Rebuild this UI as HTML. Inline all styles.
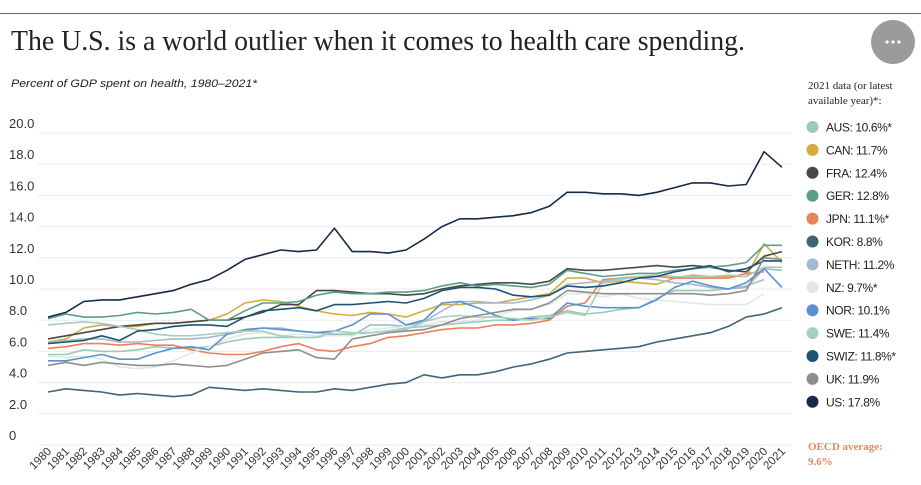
<!DOCTYPE html>
<html><head><meta charset="utf-8"><style>
html,body{margin:0;padding:0;background:#fff;}
svg{display:block;font-family:"Liberation Sans",sans-serif;}
</style></head><body>
<svg id="chart" width="921" height="485" viewBox="0 0 921 485">
<line x1="0" y1="13.5" x2="921" y2="13.5" stroke="#666" stroke-width="1"/>
<text x="11" y="50" font-family="Liberation Serif, serif" font-size="28" fill="#222" textLength="734" lengthAdjust="spacingAndGlyphs">The U.S. is a world outlier when it comes to health care spending.</text>
<g>
<circle cx="893" cy="42" r="22" fill="#9b9b9b"/>
<circle cx="887" cy="42" r="1.6" fill="#fff"/><circle cx="893" cy="42" r="1.6" fill="#fff"/><circle cx="899" cy="42" r="1.6" fill="#fff"/>
</g>
<text x="11" y="87" font-size="11" font-style="italic" fill="#222" textLength="246" lengthAdjust="spacingAndGlyphs">Percent of GDP spent on health, 1980–2021*</text>
<text x="808" y="89" font-family="Liberation Serif, serif" font-size="11" fill="#222">2021 data (or latest</text>
<text x="808" y="104" font-family="Liberation Serif, serif" font-size="11" fill="#222">available year)*:</text>
<g id="grid"></g><g id="lines"></g><g id="xlabels"></g><g id="legend"></g>
<text x="808" y="450" font-family="Liberation Serif, serif" font-size="11" font-weight="bold" fill="#ea8761">OECD average:</text>
<text x="808" y="465" font-family="Liberation Serif, serif" font-size="11" font-weight="bold" fill="#ea8761">9.6%</text>
</svg>
<script>
const years = [];for(let y=1980;y<=2021;y++)years.push(y);
const yTicks = [0,2,4,6,8,10,12,14,16,18,20];
const countries = ["AUS","CAN","FRA","GER","JPN","KOR","NETH","NZ","NOR","SWE","SWIZ","UK","US"];
const legendLabels = ["AUS: 10.6%*","CAN: 11.7%","FRA: 12.4%","GER: 12.8%","JPN: 11.1%*","KOR: 8.8%","NETH: 11.2%","NZ: 9.7%*","NOR: 10.1%","SWE: 11.4%","SWIZ: 11.8%*","UK: 11.9%","US: 17.8%"];
const colors = ["#9dc9b7","#d8aa42","#474b47","#5a9e86","#ec7f5e","#3f6478","#a3b9cc","#dde9e4","#5b91d0","#a7cfbd","#1d5270","#8e8e8e","#172a45"];
const AUS=[5.8,5.8,6.1,6.0,6.0,6.1,6.3,6.2,6.2,6.3,6.6,6.8,6.9,6.9,6.9,6.9,7.1,7.1,7.2,7.3,7.5,7.6,7.7,7.8,7.9,8.0,8.0,8.2,8.3,8.6,8.4,8.5,8.7,8.8,9.4,9.9,9.9,9.9,10.0,10.2,10.6];
const CAN=[6.6,6.8,7.5,7.7,7.6,7.6,7.8,7.8,7.9,8.0,8.4,9.1,9.3,9.2,8.9,8.6,8.4,8.3,8.5,8.4,8.2,8.6,9.0,9.0,9.1,9.1,9.3,9.5,9.7,10.7,10.7,10.4,10.5,10.4,10.3,10.7,10.9,10.8,10.8,10.8,12.9,11.7];
const FRA=[6.8,7.0,7.2,7.4,7.6,7.7,7.8,7.8,7.9,8.0,8.0,8.2,8.5,9.0,9.0,9.9,9.9,9.8,9.7,9.7,9.6,9.7,10.0,10.2,10.3,10.4,10.4,10.3,10.5,11.3,11.2,11.2,11.3,11.4,11.5,11.4,11.5,11.4,11.2,11.1,12.1,12.4];
const GER=[8.1,8.4,8.2,8.2,8.3,8.5,8.4,8.5,8.7,8.0,8.0,8.6,9.1,9.1,9.2,9.6,9.8,9.7,9.7,9.8,9.8,9.9,10.2,10.4,10.2,10.3,10.2,10.1,10.3,11.2,11.0,10.8,10.9,11.0,11.0,11.2,11.3,11.4,11.5,11.7,12.8,12.8];
const JPN=[6.2,6.3,6.5,6.5,6.4,6.5,6.4,6.4,6.1,5.9,5.8,5.8,6.0,6.3,6.5,6.1,6.0,6.3,6.5,6.9,7.0,7.2,7.4,7.5,7.5,7.7,7.7,7.8,8.0,8.9,9.1,10.6,10.7,10.8,10.8,10.7,10.7,10.7,10.7,11.0,11.1];
const KOR=[3.4,3.6,3.5,3.4,3.2,3.3,3.2,3.1,3.2,3.7,3.6,3.5,3.6,3.5,3.4,3.4,3.6,3.5,3.7,3.9,4.0,4.5,4.3,4.5,4.5,4.7,5.0,5.2,5.5,5.9,6.0,6.1,6.2,6.3,6.6,6.8,7.0,7.2,7.6,8.2,8.4,8.8];
const NETH=[6.6,6.7,6.8,6.8,6.6,6.6,6.7,6.8,6.8,6.9,7.1,7.3,7.5,7.5,7.3,7.2,7.1,7.0,7.7,7.7,7.6,7.9,8.6,9.2,9.2,9.1,9.1,9.3,9.6,10.3,10.4,10.5,10.7,10.7,10.6,10.4,10.3,10.1,10.0,10.1,11.3,11.2];
const NZ=[5.7,5.6,5.7,5.5,5.0,4.9,5.0,5.4,5.9,6.3,6.8,7.1,7.2,7.0,7.1,7.0,7.0,7.0,7.4,7.5,7.6,7.7,7.9,7.9,8.0,8.3,8.6,8.7,9.0,9.7,9.7,9.5,9.7,9.4,9.3,9.2,9.1,9.0,9.0,9.0,9.7];
const NOR=[5.4,5.4,5.6,5.8,5.5,5.5,5.9,6.2,6.3,6.1,7.1,7.4,7.5,7.4,7.3,7.2,7.3,7.7,8.4,8.4,7.7,8.0,9.1,9.2,8.8,8.3,8.0,8.1,8.1,9.1,8.9,8.8,8.8,8.8,9.3,10.1,10.5,10.2,10.0,10.4,11.3,10.1];
const SWE=[7.7,7.8,7.9,7.8,7.6,7.4,7.1,7.0,7.0,7.1,7.2,7.3,7.3,7.0,6.9,6.9,7.3,7.2,7.2,7.3,7.4,7.9,8.2,8.3,8.2,8.2,8.1,8.0,8.2,8.5,8.3,10.4,10.6,10.8,10.9,10.8,10.8,10.8,10.9,10.8,11.4,11.4];
const SWIZ=[6.5,6.6,6.7,7.0,6.7,7.3,7.4,7.6,7.7,7.7,7.6,8.2,8.6,8.7,8.8,8.6,9.0,9.0,9.1,9.2,9.1,9.4,9.9,10.1,10.1,10.0,9.6,9.5,9.6,10.2,10.1,10.2,10.4,10.7,10.8,11.1,11.3,11.5,11.1,11.3,11.8,11.8];
const UK=[5.1,5.3,5.1,5.3,5.2,5.1,5.1,5.2,5.1,5.0,5.1,5.5,5.9,6.0,6.1,5.6,5.5,6.8,7.0,7.2,7.3,7.4,7.7,8.1,8.3,8.5,8.7,8.7,9.1,9.9,9.8,9.7,9.7,9.7,9.7,9.7,9.7,9.6,9.7,9.9,12.0,11.9];
const US=[8.2,8.5,9.2,9.3,9.3,9.5,9.7,9.9,10.3,10.6,11.2,11.9,12.2,12.5,12.4,12.5,13.9,12.4,12.4,12.3,12.5,13.2,14.0,14.5,14.5,14.6,14.7,14.9,15.3,16.2,16.2,16.1,16.1,16.0,16.2,16.5,16.8,16.8,16.6,16.7,18.8,17.8];
const series=[AUS,CAN,FRA,GER,JPN,KOR,NETH,NZ,NOR,SWE,SWIZ,UK,US];

const NS="http://www.w3.org/2000/svg";
const X0=48,X1=782,Y0=445,PER=15.6;
const xScale=i=>X0+(X1-X0)*i/(years.length-1);
const yScale=v=>Y0-v*PER;
function mk(tag,attrs,parent){const e=document.createElementNS(NS,tag);for(const k in attrs)e.setAttribute(k,attrs[k]);parent.appendChild(e);return e;}
const grid=document.getElementById('grid');
yTicks.forEach(t=>{
  const l=mk('line',{x1:38,x2:792,y1:yScale(t),y2:yScale(t),stroke:'#ececec','stroke-width':1},grid);
  
  
  const tx=mk('text',{x:9,y:yScale(t)-5,'font-size':13,fill:'#333'},grid);
  tx.textContent=t===0?'0':t.toFixed(1);
  
  
});
const lg=document.getElementById('lines');
series.forEach((s,k)=>{
  const d=s.map((v,i)=>(i?'L':'M')+xScale(i).toFixed(1)+' '+yScale(v).toFixed(1)).join(' ');
  const p=mk('path',{d:d,fill:'none',stroke:colors[k],'stroke-width':1.6,'stroke-linejoin':'round'},lg);
  
  
});
const xl=document.getElementById('xlabels');
years.forEach((y,i)=>{
  const x=xScale(i)+4,yy=452;
  const t=mk('text',{x:x,y:yy,'font-size':11.5,fill:'#333','text-anchor':'end',transform:`rotate(-45 ${x} ${yy})`},xl);
  t.textContent=y;
  
  
});
const leg=document.getElementById('legend');
legendLabels.forEach((lab,k)=>{
  const cy=127+k*22.9;
  const g=mk('g',{},leg);
  
  
  mk('circle',{cx:812.5,cy:cy,r:6,fill:colors[k]},g);
  const t=mk('text',{x:826,y:cy+4.5,'font-size':12,fill:'#222','letter-spacing':-0.4},g);
  t.textContent=lab;
});
</script>
</body></html>
